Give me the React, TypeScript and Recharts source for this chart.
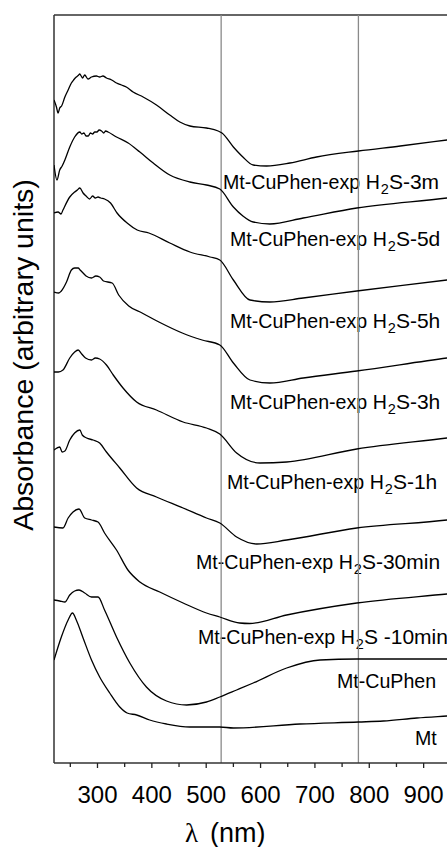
import React from 'react';
import { LineChart, Line, XAxis, YAxis, ReferenceLine } from 'recharts';

// [wavelength nm, absorbance a.u.], top curve first
const exp3m = [
  [220, 6.63], [224.5, 6.56], [227.5, 6.5], [230.5, 6.55], [234, 6.57], [240, 6.66], [246, 6.73],
  [252, 6.8], [256, 6.83], [261, 6.86], [264.5, 6.875], [267.5, 6.89], [270, 6.87], [272.5, 6.85],
  [276.5, 6.88], [282.5, 6.84], [289, 6.86], [298, 6.87], [304, 6.86], [310, 6.87], [316.5, 6.85],
  [326, 6.83], [335, 6.8], [344, 6.78], [353, 6.76], [365.5, 6.71], [384, 6.66], [408.5, 6.58],
  [433, 6.48], [451.5, 6.41], [470, 6.37], [500.5, 6.35], [522, 6.32], [529, 6.3], [550, 6.16],
  [567.5, 6.06], [586.5, 5.98], [611, 5.97], [654, 6.0], [703, 6.06], [780, 6.12], [857, 6.17],
  [943, 6.23], [1000, 6.27],
];
const exp5d = [
  [220, 5.98], [225.5, 5.83], [230.5, 5.93], [235, 5.97], [240, 6.03], [249, 6.16], [258, 6.26],
  [267.5, 6.31], [271, 6.29], [275, 6.3], [279, 6.27], [283, 6.27], [287, 6.3], [291, 6.29],
  [295, 6.31], [299, 6.31], [303, 6.33], [307.5, 6.32], [311.5, 6.3], [315, 6.32], [319.5, 6.31],
  [335, 6.26], [356.5, 6.2], [378, 6.11], [402.5, 6.0], [433, 5.88], [470, 5.81], [500.5, 5.78],
  [525, 5.74], [550, 5.56], [567.5, 5.47], [586.5, 5.41], [617, 5.39], [678.5, 5.45], [777, 5.55],
  [943, 5.65], [1000, 5.69],
];
const exp5h = [
  [220, 5.5], [227.5, 5.51], [233, 5.49], [236.5, 5.53], [249, 5.66], [258, 5.71], [263, 5.73],
  [267.5, 5.75], [273.5, 5.7], [279, 5.67], [285.5, 5.64], [291, 5.67], [296, 5.65], [301, 5.66],
  [306, 5.65], [313, 5.64], [324, 5.6], [336, 5.5], [354.5, 5.4], [373, 5.33], [394.5, 5.3],
  [433, 5.2], [470, 5.11], [507, 5.06], [525, 5.03], [550, 4.83], [580.5, 4.63], [617, 4.61],
  [678.5, 4.65], [777, 4.72], [943, 4.83], [1000, 4.87],
];
const exp3h = [
  [220, 4.71], [229, 4.7], [233.5, 4.72], [243, 4.81], [252, 4.93], [258, 4.95], [264.5, 4.95],
  [268, 4.93], [273.5, 4.9], [279, 4.87], [289, 4.85], [297, 4.87], [304, 4.86], [311, 4.82],
  [327, 4.8], [339, 4.68], [357.5, 4.57], [382, 4.5], [413, 4.41], [456, 4.3], [492.5, 4.23],
  [525, 4.18], [550, 4.0], [580.5, 3.83], [617, 3.8], [678.5, 3.85], [777, 3.92], [943, 4.05],
  [1000, 4.09],
];
const exp1h = [
  [220, 3.91], [228, 3.91], [236.5, 3.93], [249, 4.05], [258, 4.11], [264.5, 4.13], [271, 4.09],
  [278, 4.05], [289, 4.03], [296, 4.05], [304, 4.04], [316.5, 3.98], [329, 3.88], [347, 3.75],
  [372, 3.61], [408.5, 3.53], [457.5, 3.41], [500.5, 3.35], [525, 3.29], [556, 3.1], [599, 3.0],
  [648, 3.01], [777, 3.14], [943, 3.25], [1000, 3.29],
];
const exp30min = [
  [220, 3.13], [230.5, 3.16], [235, 3.11], [240, 3.12], [249, 3.23], [258, 3.3], [267.5, 3.33],
  [272, 3.28], [280, 3.25], [292, 3.23], [304, 3.2], [316.5, 3.11], [341, 2.95], [372, 2.75],
  [408.5, 2.66], [457.5, 2.55], [500.5, 2.45], [525, 2.4], [556, 2.26], [593, 2.19], [648, 2.23],
  [777, 2.35], [943, 2.43], [1000, 2.47],
];
const exp10min = [
  [220, 2.36], [236.5, 2.35], [246, 2.45], [255, 2.51], [266, 2.54], [276.5, 2.45], [289, 2.43],
  [301, 2.41], [313, 2.3], [335, 2.13], [356, 1.93], [378, 1.81], [414.5, 1.71], [457.5, 1.6],
  [500.5, 1.5], [525, 1.46], [561.5, 1.4], [580, 1.395], [648, 1.48], [777, 1.6], [943, 1.69],
  [1000, 1.72],
];
const cuPhen = [
  [220, 1.63], [230.5, 1.62], [240, 1.61], [249, 1.68], [258, 1.72], [266, 1.73], [276.5, 1.7],
  [289, 1.66], [301, 1.66], [313, 1.53], [335, 1.26], [359.5, 1.0], [390, 0.76], [427, 0.62],
  [464, 0.58], [500.5, 0.61], [525, 0.66], [556, 0.73], [586.5, 0.8], [648, 0.95], [709.5, 1.03],
  [777, 1.04], [943, 1.04], [1000, 1.04],
];
const mt = [
  [220, 1.03], [233.5, 1.26], [246, 1.43], [254, 1.5], [261, 1.43], [273.5, 1.25], [289, 1.03],
  [304, 0.86], [322.5, 0.7], [341, 0.56], [354.5, 0.5], [372, 0.48], [396, 0.43], [427, 0.39],
  [470, 0.36], [525, 0.36], [550, 0.35], [672.5, 0.39], [780, 0.41], [826, 0.42], [887.5, 0.45],
  [943, 0.47], [1000, 0.49],
];

const series = [exp3m, exp5d, exp5h, exp3h, exp1h, exp30min, exp10min, cuPhen, mt];
const xTicks = [250, 300, 350, 400, 450, 500, 550, 600, 650, 700, 750, 800, 850, 900, 950];
const markers = [527.5, 780];
const xMin = 220;
const yMax = 7.48;

// curve labels: prefix, subscripted sulfide suffix (null = no H2S part)
const labels = [
  { pre: 'Mt-CuPhen-exp H', post: 'S-3m', x: 223, y: 189 },
  { pre: 'Mt-CuPhen-exp H', post: 'S-5d', x: 230, y: 246 },
  { pre: 'Mt-CuPhen-exp H', post: 'S-5h', x: 230, y: 328 },
  { pre: 'Mt-CuPhen-exp H', post: 'S-3h', x: 230, y: 409 },
  { pre: 'Mt-CuPhen-exp H', post: 'S-1h', x: 227, y: 489 },
  { pre: 'Mt-CuPhen-exp H', post: 'S-30min', x: 196, y: 569 },
  { pre: 'Mt-CuPhen-exp H', post: 'S -10min', x: 198, y: 644 },
  { pre: 'Mt-CuPhen', post: null, x: 337, y: 688 },
  { pre: 'Mt', post: null, x: 415, y: 745 },
];

const font = '"Liberation Sans", Arial, sans-serif';

const Tick = (props: any) => {
  const { x, y, payload } = props;
  const major = payload.value % 100 === 0;
  return (
    <g>
      <line x1={x} x2={x} y1={y} y2={y + (major ? 5 : 4)} stroke="#222" strokeWidth={1.3} />
      {major && (
        <text x={x} y={y + 40} textAnchor="middle" fontSize={24} fontFamily={font} fill="#000">
          {payload.value}
        </text>
      )}
    </g>
  );
};

export default function App() {
  return (
    <div
      style={{
        position: 'absolute',
        left: 0,
        top: 0,
        width: 447,
        height: 847,
        overflow: 'hidden',
        background: '#fff',
      }}
    >
      <LineChart width={480} height={847} margin={{ top: 15, right: 2, bottom: 0, left: 54 }}>
        <XAxis
          dataKey="0"
          type="number"
          domain={[xMin, 1000]}
          ticks={xTicks}
          interval={0}
          tick={<Tick />}
          tickLine={false}
          tickSize={0}
          tickMargin={0}
          height={84}
          allowDataOverflow
          axisLine={{ stroke: '#333', strokeWidth: 1.5 }}
        />
        <YAxis type="number" domain={[0, yMax]} width={0} tick={false} tickLine={false} axisLine={false} />
        <ReferenceLine y={yMax} stroke="#333" strokeWidth={1.5} />
        <ReferenceLine x={xMin} stroke="#333" strokeWidth={1.5} />
        {markers.map((m) => (
          <ReferenceLine key={m} x={m} stroke="#8a8a8a" strokeWidth={1.3} />
        ))}
        {series.map((s, i) => (
          <Line
            key={i}
            data={s}
            dataKey="1"
            type="monotone"
            stroke="#000"
            strokeWidth={1.3}
            dot={false}
            isAnimationActive={false}
          />
        ))}
        {labels.map((l, i) => (
          <text key={i} x={l.x} y={l.y} fontSize={19.6} fontFamily={font} fill="#000">
            {l.pre}
            {l.post && (
              <>
                <tspan fontSize={14.5} dy={5} dx={1}>2</tspan>
                <tspan dy={-5} fontSize={21}>{l.post}</tspan>
              </>
            )}
          </text>
        ))}
        <text
          x={33}
          y={355}
          transform="rotate(-90, 33, 355)"
          textAnchor="middle"
          fontSize={28.5}
          fontFamily={font}
          fill="#000"
        >
          Absorbance (arbitrary units)
        </text>
        <text x={185} y={842} fontSize={27} fontFamily={font} fill="#000">
          <tspan fontFamily='"Liberation Serif", serif'>λ</tspan>
          <tspan dx={12}>(nm)</tspan>
        </text>
      </LineChart>
    </div>
  );
}
